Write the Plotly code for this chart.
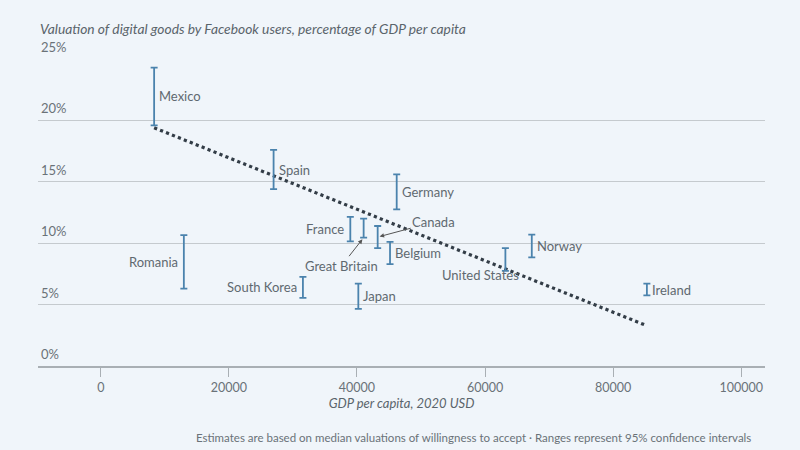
import plotly.graph_objects as go

# ---- data ----
countries = ["Mexico", "Spain", "Germany", "France", "Great Britain", "Canada", "Belgium",
             "South Korea", "Japan", "United States", "Norway", "Ireland", "Romania"]
gdp = [8330, 26980, 46200, 38960, 41040, 43230, 45160, 31560, 40210, 63170, 67290, 85260, 12970]
low = [19.6, 14.4, 12.75, 10.15, 10.45, 9.6, 8.3, 5.55, 4.65, 7.75, 8.85, 5.75, 6.3]
high = [24.3, 17.6, 15.6, 12.15, 12.0, 11.4, 10.1, 7.25, 6.7, 9.6, 10.7, 6.7, 10.65]
trend_x = [8330, 85160]
trend_y = [19.4, 3.3]
y_ticks = [0, 5, 10, 15, 20, 25]
y_tick_labels = ["0%", "5%", "10%", "15%", "20%", "25%"]
x_ticks = [0, 20000, 40000, 60000, 80000, 100000]
x_tick_labels = ["0", "20000", "40000", "60000", "80000", "100000"]

label_style = {
    "Mexico": ("right", None), "Spain": ("right", None), "Germany": ("right", None),
    "France": ("left", None), "Belgium": ("right", None), "South Korea": ("left", None),
    "Japan": ("right", None), "Norway": ("right", None), "Ireland": ("right", None),
    "Romania": ("left", None), "United States": ("below", None),
    "Great Britain": ("arrow", (-22, 28)), "Canada": ("arrow", (56, -15)),
}

BG = "#f0f5fa"
TXT = "#5f6970"
BAR = "#4b83ad"
FONT = "Lato"

fig = go.Figure()

fig.add_trace(go.Scatter(
    x=trend_x, y=trend_y, mode="lines",
    line=dict(color="#333d47", width=3.2, dash="dot"),
    hoverinfo="skip", showlegend=False))

fig.add_trace(go.Scatter(
    x=gdp, y=low, mode="markers",
    marker=dict(size=1, color="rgba(0,0,0,0)"),
    error_y=dict(type="data", symmetric=False,
                 array=[h - l for h, l in zip(high, low)],
                 arrayminus=[0] * len(low),
                 color=BAR, thickness=1.8, width=3.5),
    showlegend=False, cliponaxis=False))

annotations = []
for c, x, lo, hi in zip(countries, gdp, low, high):
    side, off = label_style[c]
    mid = (lo + hi) / 2
    f = dict(family=FONT, size=13, color=TXT)
    if side == "right":
        annotations.append(dict(x=x, y=mid, text=c, showarrow=False, xanchor="left",
                                xshift=3, font=f))
    elif side == "left":
        annotations.append(dict(x=x, y=mid, text=c, showarrow=False, xanchor="right",
                                xshift=-4, font=f))
    elif side == "below":
        annotations.append(dict(x=x, y=lo, text=c, showarrow=False, xanchor="center",
                                yanchor="top", xshift=-25, yshift=6, font=f))
    else:
        ax, ay = off
        annotations.append(dict(x=x, y=lo if c == "Great Britain" else mid, text=c,
                                showarrow=True, arrowhead=2, arrowsize=0.9, arrowwidth=1,
                                arrowcolor="#555", ax=ax, ay=ay, font=f,
                                standoff=2))

for v, t in zip(y_ticks, y_tick_labels):
    annotations.append(dict(x=0, xref="paper", y=v, yref="y", text=t, showarrow=False,
                            xanchor="left", yanchor="bottom", xshift=1, yshift=2,
                            font=dict(family=FONT, size=13, color="#6a7278")))

annotations.append(dict(x=0, xref="paper", y=1, yref="paper", yshift=20,
                        text="<i>Valuation of digital goods by Facebook users, percentage of GDP per capita</i>",
                        showarrow=False, xanchor="left", yanchor="bottom",
                        font=dict(family=FONT, size=13.8, color="#5a646b")))

annotations.append(dict(x=0.215, xref="paper", y=-0.262, yref="paper",
                        text="Estimates are based on median valuations of willingness to accept · Ranges represent 95% confidence intervals",
                        showarrow=False, xanchor="left", yanchor="bottom",
                        font=dict(family=FONT, size=11.5, color="#6a7278")))

fig.update_layout(
    width=800, height=450,
    paper_bgcolor=BG, plot_bgcolor=BG,
    margin=dict(l=38, r=35, t=59, b=84),
    font=dict(family=FONT, size=13, color=TXT),
    annotations=annotations,
    xaxis=dict(range=[-9800, 103700], tickvals=x_ticks, ticktext=x_tick_labels,
               showgrid=False, zeroline=False, showline=True, linecolor="#a9afb4",
               linewidth=2, ticks="outside", ticklen=9, tickcolor="#a9afb4",
               tickfont=dict(family=FONT, size=12.5, color="#6a7278"),
               title=dict(text="<i>GDP per capita, 2020 USD</i>", standoff=4,
                          font=dict(family=FONT, size=13, color="#5a646b"))),
    yaxis=dict(range=[0, 25], tickvals=y_ticks, showticklabels=False,
               showgrid=True, gridcolor="#c5cace", gridwidth=1, zeroline=False),
)

fig.write_html("out.html", config={"displayModeBar": False},
               post_script="document.body.style.margin='0';document.body.style.background='%s';" % BG)
